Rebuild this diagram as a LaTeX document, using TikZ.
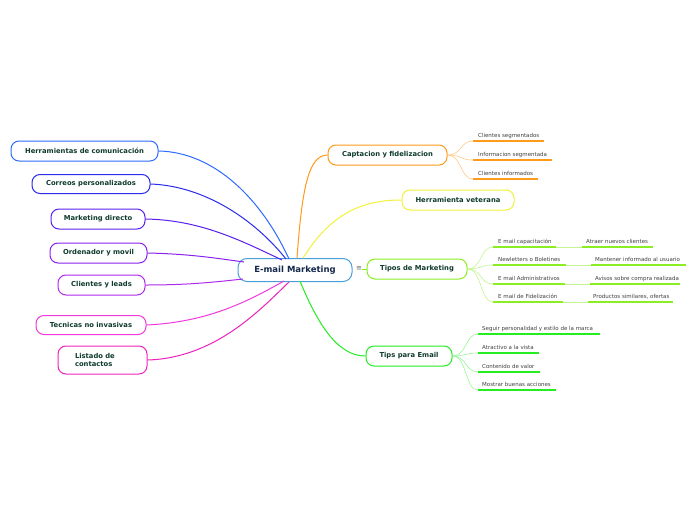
\documentclass[tikz,border=0pt]{standalone}
\usepackage{fontspec}
\setmainfont{DejaVu Sans}
\begin{document}
\begin{tikzpicture}[x=1pt,y=-1pt,
  topic/.style={draw, line width=1pt, rounded corners=8pt, fill=white, inner sep=0pt,
    font=\fontsize{6.8}{8.2}\selectfont\bfseries, text=txtgreen, minimum height=20pt},
  lbl/.style={anchor=base west, inner sep=0pt, font=\fontsize{5.5}{6.5}\selectfont, text=black!75},
  conn/.style={line width=1pt},
  sub/.style={line width=0.6pt},
  uline/.style={line width=1.6pt}
]
\definecolor{txtgreen}{HTML}{0E3B2C}
\definecolor{cnavy}{HTML}{14284B}
\definecolor{cborder}{HTML}{4A9FD8}
\definecolor{cherr}{HTML}{2E6BFF}
\definecolor{ccorr}{HTML}{2B2BEE}
\definecolor{cmark}{HTML}{5A1FEE}
\definecolor{corde}{HTML}{8A22EE}
\definecolor{cclie}{HTML}{B02AEE}
\definecolor{ctecn}{HTML}{F03ADC}
\definecolor{clist}{HTML}{EE22BB}
\definecolor{ccapt}{HTML}{FF9A1A}
\definecolor{ccaptl}{HTML}{FFCC88}
\definecolor{cvete}{HTML}{F2F23A}
\definecolor{ctipo}{HTML}{8AEE22}
\definecolor{ctipol}{HTML}{C4F590}
\definecolor{ctips}{HTML}{22EE22}
\definecolor{ctipsl}{HTML}{9AF59A}

\useasboundingbox[fill=white] (0,0) rectangle (696,520);

% center
\node[topic, draw=cborder, minimum width=114pt, minimum height=23pt, rounded corners=9pt,
  font=\fontsize{8.5}{10}\selectfont\bfseries, text=cnavy] (c) at (295,270) {E-mail Marketing};

% left topics
\node[topic, draw=cherr, minimum width=147pt] (herr) at (84.5,151) {Herramientas de comunicación};
\node[topic, draw=ccorr, minimum width=118pt, minimum height=19pt] (corr) at (91,184) {Correos personalizados};
\node[topic, draw=cmark, minimum width=94pt] (mark) at (98,219) {Marketing directo};
\node[topic, draw=corde, minimum width=97pt] (orde) at (98.5,253) {Ordenador y movil};
\node[topic, draw=cclie, minimum width=87pt] (clie) at (101.5,285) {Clientes y leads};
\node[topic, draw=ctecn, minimum width=110pt, minimum height=19pt] (tecn) at (91,325) {Tecnicas no invasivas};
\node[topic, draw=clist, minimum width=89pt, minimum height=28pt, text width=55pt, align=left] (list) at (102.5,360) {Listado de\\contactos};

% right topics
\node[topic, draw=ccapt, minimum width=119pt] (capt) at (387.5,155) {Captacion y fidelizacion};
\node[topic, draw=cvete, minimum width=112pt] (vete) at (458,200) {Herramienta veterana};
\node[topic, draw=ctipo, minimum width=100pt] (tipo) at (417,269) {Tipos de Marketing};
\node[topic, draw=ctips, minimum width=86pt] (tips) at (409,356) {Tips para Email};

\node[inner sep=0pt, font=\fontsize{7}{8}\selectfont, text=black!60] (menu) at (359,269) {≡};

% attach points on center
\coordinate (a1) at (289,259);
\coordinate (a2) at (286,259);
\coordinate (a3) at (282,260);
\coordinate (a4) at (244,262);
\coordinate (a5) at (243,279);
\coordinate (a6) at (284,281);
\coordinate (a7) at (289,282);
\coordinate (b1) at (297,258);
\coordinate (b2) at (303,258);
\coordinate (b3) at (300,281);

% left connectors
\draw[conn, cherr] (herr.east) .. controls (215,152) and (262,200) .. (a1);
\draw[conn, ccorr] (corr.east) .. controls (205,186) and (255,220) .. (a2);
\draw[conn, cmark] (mark.east) .. controls (200,220) and (240,240) .. (a3);
\draw[conn, corde] (orde.east) .. controls (190,254) and (215,258) .. (a4);
\draw[conn, cclie] (clie.east) .. controls (190,285) and (215,282) .. (a5);
\draw[conn, ctecn] (tecn.east) .. controls (210,322) and (250,300) .. (a6);
\draw[conn, clist] (list.east) .. controls (215,358) and (260,310) .. (a7);

% right connectors
\draw[conn, ccapt] (b1) .. controls (302,190) and (308,155) .. (capt.west);
\draw[conn, cvete] (b2) .. controls (330,215) and (360,200) .. (vete.west);
\draw[conn, ctips] (b3) .. controls (320,330) and (340,356) .. (tips.west);
\draw[conn, ctipo] (menu.east) -- (tipo.west);

% Captacion sub-items
\foreach \n/\y/\xe/\t in {k1/141/544/Clientes segmentados, k2/160/552/Informacion segmentada, k3/179/538/Clientes informados}{
  \coordinate (\n s) at (473,\y);
  \coordinate (\n e) at (\xe,\y);
  \draw[sub, ccaptl] (capt.east) .. controls (462,155) and (460,\y) .. (\n s);
  \draw[uline, ccapt] (\n s) -- (\n e);
  \node[lbl] (\n t) at (478,\y-4) {\t};
}

% Tipos sub-items
\foreach \n/\y/\xe/\t/\xs/\xf/\xt/\u in {
  p1/247/556/E mail capacitación/582/653/586/Atraer nuevos clientes,
  p2/265/566/Newletters o Boletines/591/686/595/Mantener informado al usuario,
  p3/284/565/E mail Administrativos/590/680/595/Avisos sobre compra realizada,
  p4/302/563/E mail de Fidelización/588/673/593/{Productos similares, ofertas}}{
  \coordinate (\n s) at (493,\y);
  \coordinate (\n e) at (\xe,\y);
  \coordinate (\n u) at (\xs,\y);
  \coordinate (\n v) at (\xf,\y);
  \draw[sub, ctipol] (tipo.east) .. controls (482,269) and (480,\y) .. (\n s);
  \draw[uline, ctipo] (\n s) -- (\n e);
  \draw[sub, ctipol] (\n e) -- (\n u);
  \draw[uline, ctipo] (\n u) -- (\n v);
  \node[lbl] (\n t) at (498,\y-4) {\t};
  \node[lbl] (\n w) at (\xt,\y-4) {\u};
}

% Tips sub-items
\foreach \n/\y/\xe/\t in {q1/334/600/Seguir personalidad y estilo de la marca, q2/353/539/Atractivo a la vista, q3/372/540/Contenido de valor, q4/390/556/Mostrar buenas acciones}{
  \coordinate (\n s) at (478,\y);
  \coordinate (\n e) at (\xe,\y);
  \draw[sub, ctipsl] (tips.east) .. controls (467,356) and (465,\y) .. (\n s);
  \draw[uline, ctips] (\n s) -- (\n e);
  \node[lbl] (\n t) at (482,\y-4) {\t};
}
\end{tikzpicture}
\end{document}
